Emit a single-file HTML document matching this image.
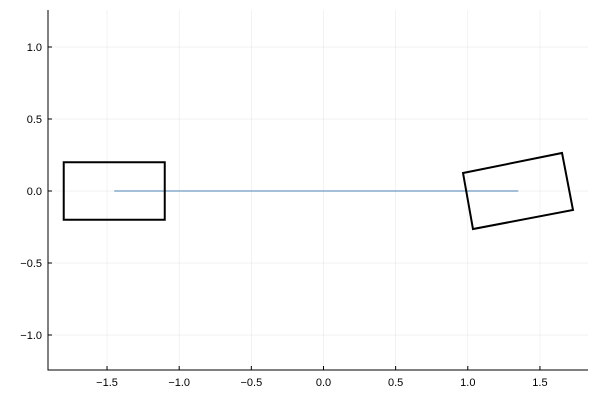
<!DOCTYPE html>
<html><head><meta charset="utf-8"><style>body{margin:0;background:#fff}svg{display:block;font-family:"Liberation Sans",sans-serif}</style></head>
<body>
<svg id="chart" width="600" height="400" xmlns="http://www.w3.org/2000/svg"></svg>
<script>
const xTicks=[-1.5,-1.0,-0.5,0.0,0.5,1.0,1.5];
const xTickLabels=["−1.5","−1.0","−0.5","0.0","0.5","1.0","1.5"];
const yTicks=[-1.0,-0.5,0.0,0.5,1.0];
const yTickLabels=["−1.0","−0.5","0.0","0.5","1.0"];
const lineX=[-1.45,1.35];
const lineY=[0,0];
const rect1X=[-1.8,-1.1,-1.1,-1.8];
const rect1Y=[0.2,0.2,-0.2,-0.2];
const rect2X=[0.967,1.653,1.729,1.036];
const rect2Y=[0.125,0.264,-0.132,-0.264];
const X0=48,X1=588,Y0=10,Y1=370;
const xmin=-1.909,xmax=1.833,ymin=-1.243,ymax=1.257;
const sx=v=>X0+(v-xmin)/(xmax-xmin)*(X1-X0);
const sy=v=>Y1-(v-ymin)/(ymax-ymin)*(Y1-Y0);
const svg=document.getElementById('chart');
const NS='http://www.w3.org/2000/svg';
function mk(t,a){const e=document.createElementNS(NS,t);for(const k in a)e.setAttribute(k,a[k]);svg.appendChild(e);return e;}
xTicks.forEach((t,i)=>{
 const g=mk('line',{x1:sx(t),x2:sx(t),y1:Y0,y2:Y1,stroke:'#000','stroke-opacity':0.1,'stroke-width':0.5});
 
 
 const tk=mk('line',{x1:sx(t),x2:sx(t),y1:Y1,y2:Y1-4,stroke:'#000','stroke-width':1});
 
 
 const l=mk('text',{x:sx(t),y:Y1+16,'text-anchor':'middle','font-size':11});
 l.textContent=xTickLabels[i];
 
 
});
yTicks.forEach((t,i)=>{
 const g=mk('line',{x1:X0,x2:X1,y1:sy(t),y2:sy(t),stroke:'#000','stroke-opacity':0.1,'stroke-width':0.5});
 
 
 const tk=mk('line',{x1:X0,x2:X0+4,y1:sy(t),y2:sy(t),stroke:'#000','stroke-width':1});
 
 
 const l=mk('text',{x:X0-6,y:sy(t)+4,'text-anchor':'end','font-size':11});
 l.textContent=yTickLabels[i];
 
 
});
const ax=mk('path',{d:`M${X0},${Y0}V${Y1}H${X1}`,fill:'none',stroke:'#000','stroke-width':1});


const ln=mk('polyline',{points:lineX.map((x,i)=>sx(x)+','+sy(lineY[i])).join(' '),fill:'none',stroke:'#4a7fb0','stroke-width':1});


const r1=mk('polygon',{points:rect1X.map((x,i)=>sx(x)+','+sy(rect1Y[i])).join(' '),fill:'none',stroke:'#000','stroke-width':2});


const r2=mk('polygon',{points:rect2X.map((x,i)=>sx(x)+','+sy(rect2Y[i])).join(' '),fill:'none',stroke:'#000','stroke-width':2});


</script>
</body></html>
